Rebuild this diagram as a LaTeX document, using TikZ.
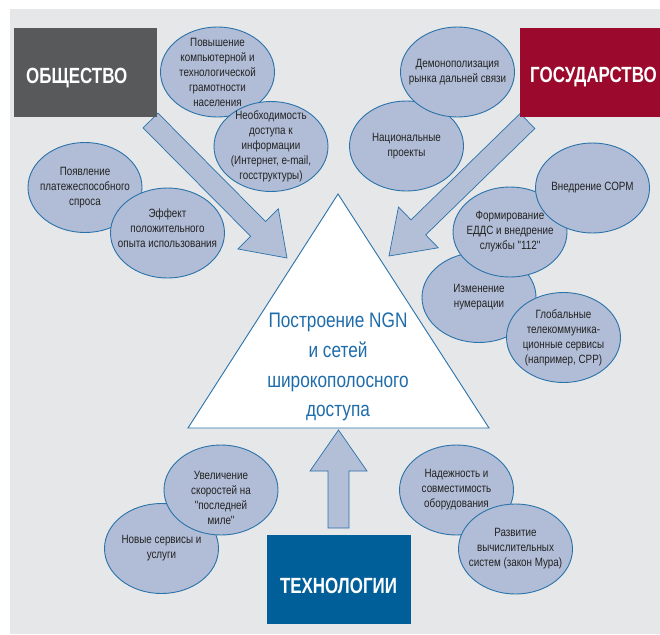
\documentclass[tikz,border=0pt]{standalone}
\usepackage{fontspec}
\setmainfont{Liberation Sans}
\newfontfamily\cond[FakeStretch=0.82]{Liberation Sans}
\newfontfamily\condhead[FakeStretch=0.77]{Liberation Sans}
\usetikzlibrary{shapes.geometric,calc}

\definecolor{panel}{HTML}{E5E7E9}
\definecolor{bubblefill}{HTML}{B1BDD6}
\definecolor{edgeblue}{HTML}{2A72AA}
\definecolor{arrowfill}{HTML}{B3BFD7}
\definecolor{ink}{HTML}{222222}
\definecolor{goalblue}{HTML}{1F6CAB}
\definecolor{socgray}{HTML}{58595B}
\definecolor{govred}{HTML}{9B0A2C}
\definecolor{techblue}{HTML}{005E98}

% block arrow from a start coordinate (#1) to a tip coordinate (#2)
\newcommand\blockarrowpath[2]{%
  \coordinate (hb) at ($(#2)!41pt!(#1)$);
  \draw[blockarrow]
    ($(#1)!10.5pt!90:(#2)$) -- ($(hb)!10.5pt!90:(#2)$) -- ($(hb)!28.5pt!90:(#2)$)
    -- (#2)
    -- ($(hb)!28.5pt!-90:(#2)$) -- ($(hb)!10.5pt!-90:(#2)$) -- ($(#1)!10.5pt!-90:(#2)$)
    -- cycle;}

\begin{document}
\begin{tikzpicture}[x=1pt,y=-1pt,
  bubble/.style={ellipse, draw=edgeblue, line width=0.9pt, fill=bubblefill,
    minimum width=114pt, minimum height=90pt, inner sep=-15pt, align=center,
    text=ink, font=\cond\fontsize{12}{15}\selectfont},
  bubbletext/.style={align=center, inner sep=0pt, text=ink,
    font=\cond\fontsize{12}{15}\selectfont},
  blockarrow/.style={draw=edgeblue, line width=0.7pt, fill=arrowfill, line join=miter},
  headbox/.style={rectangle, draw=none, inner sep=0pt},
  headtext/.style={inner sep=0pt, text=white, font=\condhead\bfseries\fontsize{22}{26}\selectfont},
  tri/.style={draw=edgeblue, line width=0.9pt, fill=white, line join=miter},
  goal/.style={align=center, inner sep=0pt, text=goalblue,
    font=\cond\fontsize{21}{29.7}\selectfont}]

\useasboundingbox (0,0) rectangle (660,634);
\fill[panel] (10,9) rectangle (660,634);

% central triangle
\coordinate (apex) at (338,194);
\coordinate (bl) at (188,428);
\coordinate (br) at (489,428);
\draw[tri] (apex) -- (br) -- (bl) -- cycle;
\node[goal] (goal) at (338,367) {Построение NGN\\и сетей\\широкополосного\\доступа};

% block arrows towards the triangle
\coordinate (soc-start) at (150.5,120.5);
\coordinate (soc-tip) at (287,258);
\coordinate (gov-start) at (527.5,121);
\coordinate (gov-tip) at (389,256);
\coordinate (tech-start) at (338.5,528);
\coordinate (tech-tip) at (338.5,430);
\blockarrowpath{soc-start}{soc-tip}
\blockarrowpath{gov-start}{gov-tip}
\blockarrowpath{tech-start}{tech-tip}

% the three driving forces
\node[headbox, fill=socgray, minimum width=143pt, minimum height=89pt] (soc) at (85.5,72.5) {};
\node[headtext, anchor=base west] (soc-label) at (26,83) {ОБЩЕСТВО};
\node[headbox, fill=govred, minimum width=145pt, minimum height=89pt] (gov) at (592.5,72.5) {};
\node[headtext, anchor=base west] (gov-label) at (530,82.5) {ГОСУДАРСТВО};
\node[headbox, fill=techblue, minimum width=144pt, minimum height=89pt] (tech) at (339,579.5) {};
\node[headtext, anchor=base] (tech-label) at (338.5,593) {ТЕХНОЛОГИИ};

% society factors
\node[bubble] (povysh) at (217.5,72) {Повышение\\компьютерной и\\технологической\\грамотности\\населения};
\node[bubble] (neobh) at (271,146.5) {Необходимость\\доступа к\\информации\\(Интернет, e-mail,\\госструктуры)};
\node[bubble] (poyavl) at (85,187.5) {Появление\\платежеспособного\\спроса};
\node[bubble] (effekt) at (167.5,233) {};
\node[bubbletext] (effekt-text) at (167.5,228.5) {Эффект\\положительного\\опыта использования};

% state factors
\node[bubble] (nats) at (406.5,146) {Национальные\\проекты};
\node[bubble] (demon) at (457.5,72) {Демонополизация\\рынка дальней связи};
\node[bubble] (izmen) at (479,297.5) {Изменение\\нумерации};
\node[bubble] (form) at (510,232) {Формирование\\ЕДДС и внедрение\\службы "112"};
\node[bubble] (sorm) at (592.5,188) {Внедрение СОРМ};
\node[bubble] (glob) at (563.5,337.5) {Глобальные\\телекоммуника-\\ционные сервисы\\(например, СРР)};

% technology factors
\node[bubble] (novye) at (161.5,548.5) {Новые сервисы и\\услуги};
\node[bubble] (uvel) at (221,490) {};
\node[bubbletext] (uvel-text) at (221,497.5) {Увеличение\\скоростей на\\"последней\\миле"};
\node[bubble] (nadezh) at (456.5,490) {Надежность и\\совместимость\\оборудования};
\node[bubble] (razv) at (515.5,549) {Развитие\\вычислительных\\систем (закон Мура)};

\end{tikzpicture}
\end{document}
